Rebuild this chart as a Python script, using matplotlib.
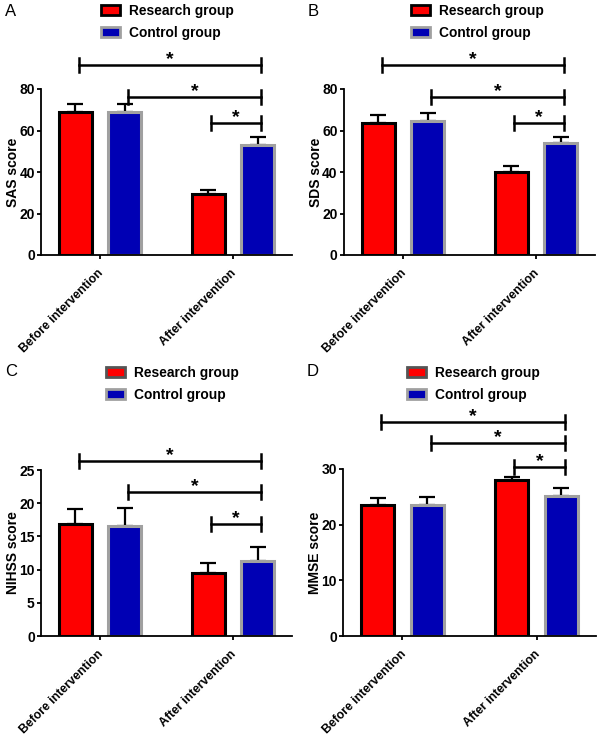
import numpy as np
import matplotlib.pyplot as plt
from matplotlib.patches import Patch
from matplotlib.transforms import ScaledTranslation

plt.rcParams['font.family'] = ['Liberation Sans', 'DejaVu Sans']

groepen = ['Before intervention', 'After intervention']
legend_namen = ['Research group', 'Control group']

# waarden: research voor/na, control voor/na, en bovenkant van de foutbalk
sas_r, sas_c = [69, 29.5], [69, 53]
sas_r_top, sas_c_top = [73, 31.5], [73, 57]
sds_r, sds_c = [63.5, 40], [64.5, 54]
sds_r_top, sds_c_top = [67.5, 43], [68.5, 57]
nihss_r, nihss_c = [16.8, 9.5], [16.6, 11.3]
nihss_r_top, nihss_c_top = [19.2, 11], [19.3, 13.4]
mmse_r, mmse_c = [23.6, 28.1], [23.5, 25.2]
mmse_r_top, mmse_c_top = [24.8, 28.5], [24.9, 26.6]

# hoogte van de significantie-haken per paneel
sas_haken = [91.6, 76.1, 63.6]
sds_haken = [91.6, 76.1, 63.6]
nihss_haken = [26.4, 21.7, 16.9]
mmse_haken = [38.4, 34.7, 30.4]

W, H = 600, 737
rood, blauw = '#fe0000', '#0000b4'
grijs = '#a0a0a0'


def paneel(x0, x1, y0, y1, letter, letter_y, naam, r, c, r_top, c_top, ymax, stap, haken, leg_x, leg_y, leg_rand):
    ax = fig.add_axes([x0 / W, 1 - y0 / H, (x1 - x0) / W, (y0 - y1) / H])
    x = np.arange(2)
    d, b = 0.186, 0.25
    ax.bar(x - d, r, b, color=rood, edgecolor='black', linewidth=2.2, zorder=2)
    ax.bar(x + d, c, b, color=blauw, edgecolor=grijs, linewidth=2.2, zorder=2)
    ax.errorbar(x - d, r, yerr=[np.zeros(2), np.array(r_top) - r], fmt='none', ecolor='black',
                elinewidth=1.6, capsize=5.7, capthick=1.6, zorder=1)
    ax.errorbar(x + d, c, yerr=[np.zeros(2), np.array(c_top) - c], fmt='none', ecolor='black',
                elinewidth=1.6, capsize=5.7, capthick=1.6, zorder=1)
    ax.set_xlim(-0.444, 1.444)
    ax.set_ylim(0, ymax)
    ax.set_yticks(np.arange(0, ymax + 0.1, stap))
    ax.set_xticks(x)
    ax.set_xticklabels(groepen, rotation=45, ha='right', rotation_mode='anchor', fontweight='bold', fontsize=8.8)
    for t in ax.get_yticklabels():
        t.set_fontweight('bold')
        t.set_fontsize(10)
    ax.set_ylabel(naam, fontweight='bold', fontsize=10)
    ax.yaxis.set_label_coords(-21 / (x1 - x0), 0.5)
    ax.spines[['top', 'right']].set_visible(False)
    ax.spines[['left', 'bottom']].set_linewidth(1.3)
    ax.tick_params(width=1.3, length=3, pad=1.5)
    ax.tick_params(axis='x', pad=5.5)
    # labels iets naar links, anders steken ze rechts voorbij de streep
    for t in ax.get_xticklabels():
        t.set_transform(t.get_transform() + ScaledTranslation(-2 / 72, 0, fig.dpi_scale_trans))

    # haken met sterretje, hoogte uit de lijsten boven
    px = ymax / (y0 - y1)
    for h, links in zip(haken, [-0.158, 0.21, 0.835]):
        ax.plot([links, 1.21], [h, h], color='black', lw=1.8, clip_on=False)
        for xx in [links, 1.21]:
            ax.plot([xx, xx], [h - 7 * px, h + 7 * px], color='black', lw=1.8, clip_on=False)
        ax.text((links + 1.21) / 2, h - 3 * px, '*', ha='center', va='bottom', fontsize=14, fontweight='bold')

    handles = [Patch(facecolor=rood, edgecolor=leg_rand, linewidth=2),
               Patch(facecolor=blauw, edgecolor=grijs, linewidth=2)]
    fig.legend(handles=handles, labels=legend_namen, loc='upper left', frameon=False,
               bbox_to_anchor=(leg_x / W, 1 - leg_y / H), borderpad=0, borderaxespad=0,
               handlelength=1.4, handleheight=0.75, handletextpad=0.65, labelspacing=0.56,
               prop={'weight': 'bold', 'size': 9.9})
    fig.text((x0 - 36) / W, 1 - letter_y / H, letter, fontsize=12, va='center', ha='left')


fig = plt.figure(figsize=(W / 100, H / 100), dpi=100)
paneel(41, 292, 255, 89, 'A', 11, 'SAS score', sas_r, sas_c, sas_r_top, sas_c_top, 80, 20, sas_haken, 101, 4, 'black')
paneel(344, 595, 255, 89, 'B', 11, 'SDS score', sds_r, sds_c, sds_r_top, sds_c_top, 80, 20, sds_haken, 411, 4, 'black')
paneel(41, 292, 636, 470, 'C', 372, 'NIHSS score', nihss_r, nihss_c, nihss_r_top, nihss_c_top, 25, 5, nihss_haken, 106, 366, '#555555')
paneel(343, 596, 636, 469, 'D', 372, 'MMSE score', mmse_r, mmse_c, mmse_r_top, mmse_c_top, 30, 10, mmse_haken, 407, 366, '#555555')
fig.savefig('out.png', dpi=100)
